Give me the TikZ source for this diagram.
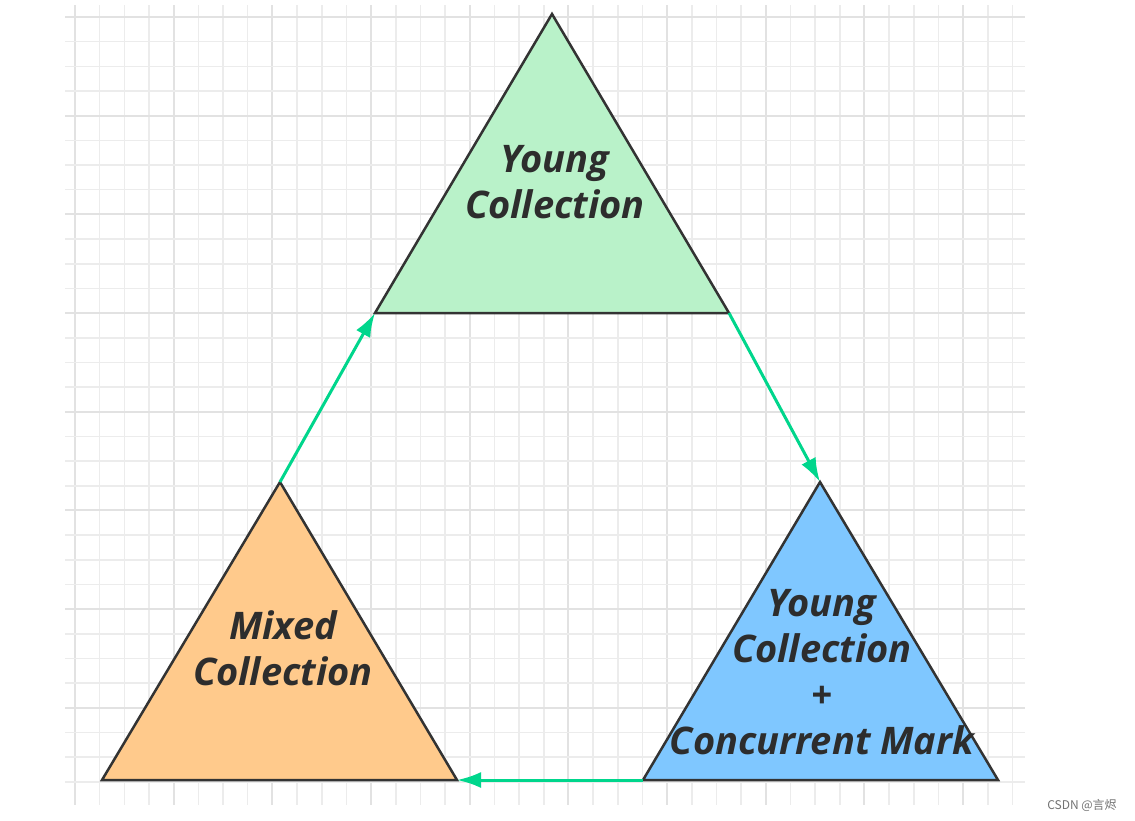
\documentclass[tikz,border=0pt]{standalone}
\usepackage{fontspec}
\setmainfont{Open Sans}
\newfontfamily\cjkfont{Noto Sans CJK SC}
\usetikzlibrary{arrows.meta}
\definecolor{gridminor}{RGB}{236,236,236}
\definecolor{gridmajor}{RGB}{226,226,226}
\definecolor{edgegray}{RGB}{51,51,51}
\definecolor{txtgray}{RGB}{45,45,45}
\definecolor{flowgreen}{RGB}{0,214,140}
\definecolor{youngfill}{RGB}{185,242,201}
\definecolor{ycmfill}{RGB}{127,199,255}
\definecolor{mixedfill}{RGB}{255,202,140}
\tikzset{
  trishape/.style={draw=edgegray, line width=2.5pt, line join=miter},
  flow/.style={draw=flowgreen, line width=3pt, -{Latex[length=24pt,width=16pt]}},
  trilabel/.style={font=\bfseries\itshape\fontsize{38}{46}\selectfont, text=txtgray, align=center, inner sep=0pt},
  gridline/.style={draw=gridminor, line width=1.6pt},
  gridmajorline/.style={draw=gridmajor, line width=2pt},
}
\begin{document}
\begin{tikzpicture}[x=1pt,y=-1pt]
\useasboundingbox (0,0) rectangle (1135,820);
\fill[white] (0,0) rectangle (1135,820);
% grid
\foreach \k in {0,...,38}{
  \pgfmathsetmacro{\xx}{75+24.67*\k}
  \pgfmathtruncatemacro{\mm}{mod(\k,4)}
  \ifnum\mm=0
    \draw[gridmajorline] (\xx,5) -- (\xx,805);
  \else
    \draw[gridline] (\xx,5) -- (\xx,805);
  \fi
}
\foreach \k in {0,...,31}{
  \pgfmathsetmacro{\yy}{17+24.67*\k}
  \pgfmathtruncatemacro{\mm}{mod(\k,4)}
  \ifnum\mm=0
    \draw[gridmajorline] (65,\yy) -- (1025,\yy);
  \else
    \draw[gridline] (65,\yy) -- (1025,\yy);
  \fi
}
% corners
\coordinate (yTop) at (552,14);
\coordinate (yL) at (375,313);
\coordinate (yR) at (729,313);
\coordinate (cTop) at (820,482);
\coordinate (cL) at (643,780);
\coordinate (cR) at (998,780);
\coordinate (mTop) at (280,482);
\coordinate (mL) at (102,780);
\coordinate (mR) at (457,780);
% triangles
\filldraw[trishape, fill=youngfill] (yTop) -- (yR) -- (yL) -- cycle;
\filldraw[trishape, fill=ycmfill] (cTop) -- (cR) -- (cL) -- cycle;
\filldraw[trishape, fill=mixedfill] (mTop) -- (mR) -- (mL) -- cycle;
% labels
\node[trilabel] (young) at (555,182) {Young\\Collection};
\node[trilabel] (ycm) at (822,672) {Young\\Collection\\+\\Concurrent Mark};
\node[trilabel] (mixed) at (283,648) {Mixed\\Collection};
% arrows
\draw[flow] (yR) -- (cTop);
\draw[flow] (cL) -- (mR);
\draw[flow] (mTop) -- (yL);
% watermark
\node[font=\cjkfont\fontsize{12}{14}\selectfont, text=black!55, inner sep=0pt] (mark) at (1082,805) {CSDN @言烬};
\end{tikzpicture}
\end{document}
